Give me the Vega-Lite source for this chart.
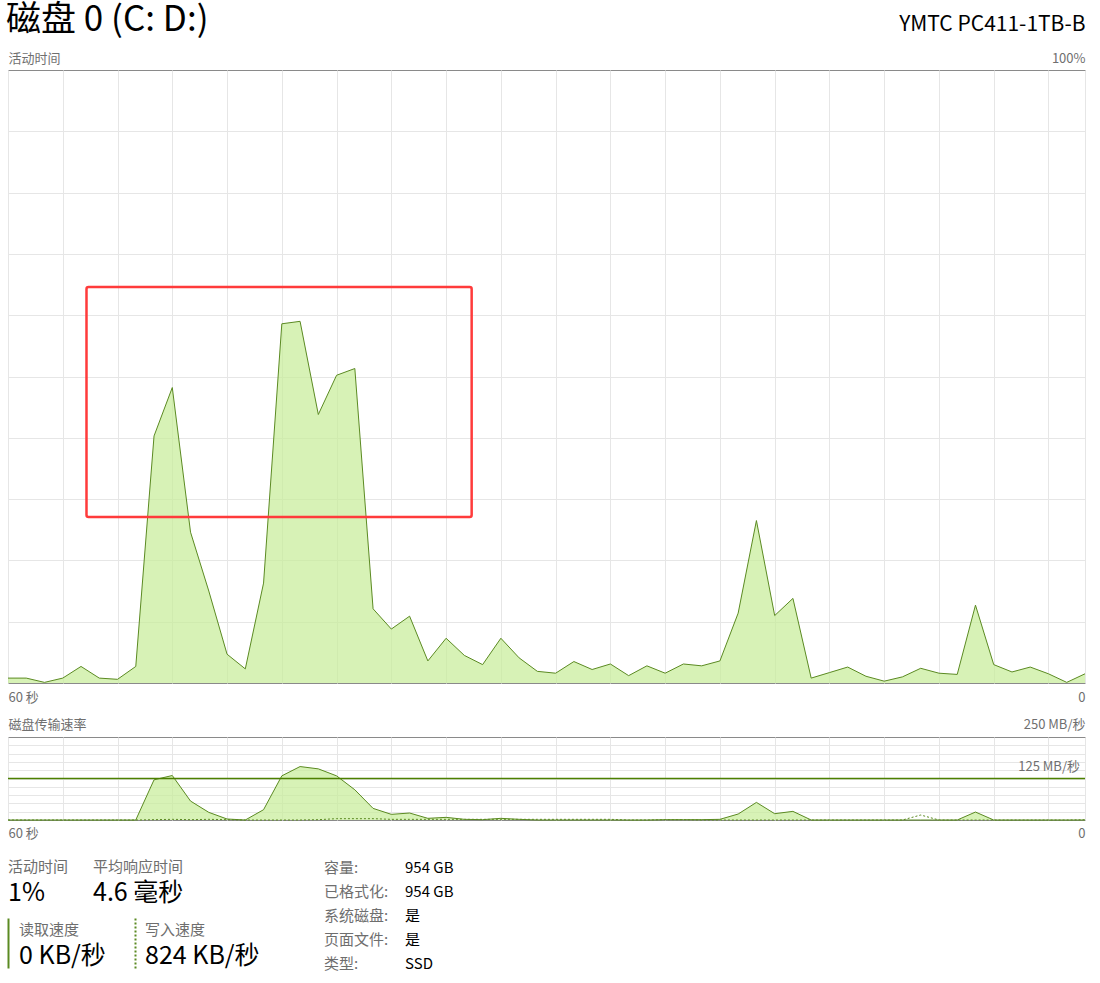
{
  "$schema": "https://vega.github.io/schema/vega-lite/v6.json",
  "background": "white",
  "padding": {"left": 5, "right": 15, "top": 2, "bottom": 0},
  "config": {
    "font": "Noto Sans CJK SC",
    "view": {"stroke": "#8a8a8a", "strokeWidth": 1},
    "axis": {"gridColor": "#e6e6e6", "gridWidth": 1, "labelFont": "Noto Sans CJK SC", "labelColor": "#6f6f6f", "labelFontSize": 13, "ticks": false, "domain": false},
    "title": {"font": "Noto Sans CJK SC", "fontWeight": "normal", "subtitleFont": "Noto Sans CJK SC"}
  },
  "datasets": {
    "磁盘": [
      {"秒": 59, "活动时间": 0.8, "读取": 0, "写入": 0},
      {"秒": 58, "活动时间": 0.8, "读取": 0, "写入": 0},
      {"秒": 57, "活动时间": 0.1, "读取": 0, "写入": 0},
      {"秒": 56, "活动时间": 0.8, "读取": 0, "写入": 0},
      {"秒": 55, "活动时间": 2.7, "读取": 0, "写入": 0},
      {"秒": 54, "活动时间": 0.8, "读取": 0, "写入": 0},
      {"秒": 53, "活动时间": 0.6, "读取": 0, "写入": 0},
      {"秒": 52, "活动时间": 2.7, "读取": 0, "写入": 0},
      {"秒": 51, "活动时间": 40.3, "读取": 121, "写入": 1},
      {"秒": 50, "活动时间": 48.2, "读取": 134, "写入": 2},
      {"秒": 49, "活动时间": 24.6, "读取": 57, "写入": 1},
      {"秒": 48, "活动时间": 15.0, "读取": 23, "写入": 2},
      {"秒": 47, "活动时间": 4.7, "读取": 3, "写入": 1},
      {"秒": 46, "活动时间": 2.3, "读取": 0, "写入": 0},
      {"秒": 45, "活动时间": 16.3, "读取": 31, "写入": 0},
      {"秒": 44, "活动时间": 58.6, "读取": 133, "写入": 0},
      {"秒": 43, "活动时间": 59.0, "读取": 161, "写入": 0},
      {"秒": 42, "活动时间": 43.8, "读取": 154, "写入": 1},
      {"秒": 41, "活动时间": 50.2, "读取": 133, "写入": 4},
      {"秒": 40, "活动时间": 51.3, "读取": 91, "写入": 4},
      {"秒": 39, "活动时间": 12.1, "读取": 35, "写入": 4},
      {"秒": 38, "活动时间": 8.8, "读取": 17, "写入": 2},
      {"秒": 37, "活动时间": 10.9, "读取": 21, "写入": 2},
      {"秒": 36, "活动时间": 3.6, "读取": 5, "写入": 2},
      {"秒": 35, "活动时间": 7.3, "读取": 8, "写入": 2},
      {"秒": 34, "活动时间": 4.5, "读取": 2, "写入": 2},
      {"秒": 33, "活动时间": 3.0, "读取": 1, "写入": 2},
      {"秒": 32, "活动时间": 7.3, "读取": 5, "写入": 2},
      {"秒": 31, "活动时间": 4.1, "读取": 2, "写入": 2},
      {"秒": 30, "活动时间": 1.9, "读取": 0, "写入": 2},
      {"秒": 29, "活动时间": 1.6, "读取": 0, "写入": 2},
      {"秒": 28, "活动时间": 3.5, "读取": 0, "写入": 2},
      {"秒": 27, "活动时间": 2.2, "读取": 0, "写入": 2},
      {"秒": 26, "活动时间": 3.1, "读取": 0, "写入": 2},
      {"秒": 25, "活动时间": 1.2, "读取": 0, "写入": 0},
      {"秒": 24, "活动时间": 2.8, "读取": 0, "写入": 0},
      {"秒": 23, "活动时间": 1.6, "读取": 1, "写入": 1},
      {"秒": 22, "活动时间": 3.1, "读取": 1, "写入": 1},
      {"秒": 21, "活动时间": 2.8, "读取": 1, "写入": 0},
      {"秒": 20, "活动时间": 3.6, "读取": 2, "写入": 0},
      {"秒": 19, "活动时间": 11.4, "读取": 18, "写入": 0},
      {"秒": 18, "活动时间": 26.5, "读取": 53, "写入": 0},
      {"秒": 17, "活动时间": 11.0, "读取": 19, "写入": 0},
      {"秒": 16, "活动时间": 13.8, "读取": 26, "写入": 0},
      {"秒": 15, "活动时间": 0.8, "读取": 0, "写入": 0},
      {"秒": 14, "活动时间": 1.7, "读取": 0, "写入": 0},
      {"秒": 13, "活动时间": 2.6, "读取": 0, "写入": 0},
      {"秒": 12, "活动时间": 1.1, "读取": 0, "写入": 0},
      {"秒": 11, "活动时间": 0.3, "读取": 0, "写入": 0},
      {"秒": 10, "活动时间": 1.0, "读取": 0, "写入": 0},
      {"秒": 9, "活动时间": 2.4, "读取": 0, "写入": 15},
      {"秒": 8, "活动时间": 1.6, "读取": 0, "写入": 0},
      {"秒": 7, "活动时间": 1.4, "读取": 0, "写入": 0},
      {"秒": 6, "活动时间": 12.7, "读取": 24, "写入": 0},
      {"秒": 5, "活动时间": 3.0, "读取": 0, "写入": 0},
      {"秒": 4, "活动时间": 1.8, "读取": 0, "写入": 0},
      {"秒": 3, "活动时间": 2.6, "读取": 0, "写入": 0},
      {"秒": 2, "活动时间": 1.5, "读取": 0, "写入": 0},
      {"秒": 1, "活动时间": 0.1, "读取": 0, "写入": 0},
      {"秒": 0, "活动时间": 1.5, "读取": 0, "写入": 0.8}
    ],
    "标注": [{"起": 54.7, "止": 33.6, "下": 27.1, "上": 64.6}],
    "参考线": [{"速率": 125, "标签": "125 MB/秒"}],
    "属性": [
      {"属性": "容量:", "值": "954 GB"},
      {"属性": "已格式化:", "值": "954 GB"},
      {"属性": "系统磁盘:", "值": "是"},
      {"属性": "页面文件:", "值": "是"},
      {"属性": "类型:", "值": "SSD"}
    ]
  },
  "spacing": 14,
  "vconcat": [
    {
      "spacing": 12,
      "vconcat": [
        {
          "width": 1077,
          "height": 613,
          "title": {"text": "磁盘 0 (C: D:)", "anchor": "start", "fontSize": 35, "color": "#000000", "offset": -25},
          "data": {"name": "磁盘"},
          "resolve": {"axis": {"x": "independent", "y": "independent"}},
          "layer": [
            {
              "mark": {"type": "area", "color": "#c6ec97", "opacity": 0.7},
              "encoding": {
                "x": {"field": "秒", "type": "quantitative", "scale": {"domain": [59, 0], "nice": false, "zero": false},
                  "axis": {"orient": "bottom", "values": [59, 56, 53, 50, 47, 44, 41, 38, 35, 32, 29, 26, 23, 20, 17, 14, 11, 8, 5, 2, 0], "grid": true, "labelExpr": "datum.value == 59 ? '60 秒' : (datum.value == 0 ? '0' : '')", "labelFlush": true, "labelOverlap": false, "labelPadding": 8, "title": null}},
                "y": {"field": "活动时间", "type": "quantitative", "scale": {"domain": [0, 100], "nice": false},
                  "axis": {"values": [10, 20, 30, 40, 50, 60, 70, 80, 90], "grid": true, "labels": false, "title": null}}
              }
            },
            {
              "mark": {"type": "line", "color": "#5b8a22", "strokeWidth": 1},
              "encoding": {
                "x": {"field": "秒", "type": "quantitative",
                  "axis": {"orient": "top", "values": [59, 0], "grid": false, "labelExpr": "datum.value == 59 ? '活动时间' : '100%'", "labelFlush": true, "labelOverlap": false, "labelPadding": 5, "title": "YMTC PC411-1TB-B", "titleAnchor": "end", "titleFontSize": 21, "titleFontWeight": "normal", "titleColor": "#000000", "titleFont": "Noto Sans CJK SC", "titlePadding": 18}},
                "y": {"field": "活动时间", "type": "quantitative", "axis": null}
              }
            },
            {
              "data": {"name": "标注"},
              "mark": {"type": "rect", "filled": false, "color": "#ff3b3b", "strokeWidth": 2.5, "cornerRadius": 2},
              "encoding": {
                "x": {"field": "起", "type": "quantitative", "axis": null},
                "x2": {"field": "止"},
                "y": {"field": "下", "type": "quantitative", "axis": null},
                "y2": {"field": "上"}
              }
            }
          ]
        },
        {
          "width": 1077,
          "height": 83,
          "data": {"name": "磁盘"},
          "resolve": {"axis": {"x": "independent", "y": "independent"}},
          "layer": [
            {
              "mark": {"type": "area", "color": "#c6ec97", "opacity": 0.7},
              "encoding": {
                "x": {"field": "秒", "type": "quantitative", "scale": {"domain": [59, 0], "nice": false, "zero": false},
                  "axis": {"orient": "bottom", "values": [59, 56, 53, 50, 47, 44, 41, 38, 35, 32, 29, 26, 23, 20, 17, 14, 11, 8, 5, 2, 0], "grid": true, "labelExpr": "datum.value == 59 ? '60 秒' : (datum.value == 0 ? '0' : '')", "labelFlush": true, "labelOverlap": false, "labelPadding": 7, "title": null}},
                "y": {"field": "读取", "type": "quantitative", "scale": {"domain": [0, 250], "nice": false},
                  "axis": {"values": [25, 50, 75, 100, 125, 150, 175, 200, 225], "grid": true, "labels": false, "title": null}}
              }
            },
            {
              "mark": {"type": "line", "color": "#5b8a22", "strokeWidth": 1},
              "encoding": {
                "x": {"field": "秒", "type": "quantitative",
                  "axis": {"orient": "top", "values": [59, 0], "grid": false, "labelExpr": "datum.value == 59 ? '磁盘传输速率' : '250 MB/秒'", "labelFlush": true, "labelOverlap": false, "labelPadding": 6, "title": null}},
                "y": {"field": "读取", "type": "quantitative", "axis": null}
              }
            },
            {
              "mark": {"type": "line", "color": "#5b8a22", "strokeWidth": 1, "strokeDash": [2, 2]},
              "encoding": {
                "x": {"field": "秒", "type": "quantitative", "axis": null},
                "y": {"field": "写入", "type": "quantitative", "axis": null}
              }
            },
            {
              "data": {"name": "参考线"},
              "mark": {"type": "rule", "color": "#4c8000", "strokeWidth": 1.5},
              "encoding": {"y": {"field": "速率", "type": "quantitative", "axis": null}}
            },
            {
              "data": {"name": "参考线"},
              "mark": {"type": "text", "align": "right", "baseline": "bottom", "dx": -5, "dy": -5, "fontSize": 13, "color": "#6f6f6f"},
              "encoding": {
                "x": {"datum": 0, "type": "quantitative", "axis": null},
                "y": {"field": "速率", "type": "quantitative", "axis": null},
                "text": {"field": "标签"}
              }
            }
          ]
        }
      ]
    },
    {
      "spacing": 39,
      "hconcat": [
        {
          "spacing": 12,
          "vconcat": [
            {
              "spacing": 0,
              "hconcat": [
                {
                  "width": 85, "height": 50,
                  "data": {"values": [{"值": 0}]},
                  "mark": {"type": "point", "opacity": 0},
                  "encoding": {"y": {"field": "值", "type": "quantitative", "axis": null}},
                  "view": {"stroke": null},
                  "title": {"text": "活动时间", "subtitle": "1%", "anchor": "start", "frame": "group", "offset": -51, "fontSize": 15, "color": "#6e6e6e", "subtitleFontSize": 25, "subtitleColor": "#000000", "subtitlePadding": 6}
                },
                {
                  "width": 150, "height": 50,
                  "data": {"values": [{"值": 0}]},
                  "mark": {"type": "point", "opacity": 0},
                  "encoding": {"y": {"field": "值", "type": "quantitative", "axis": null}},
                  "view": {"stroke": null},
                  "title": {"text": "平均响应时间", "subtitle": "4.6 毫秒", "anchor": "start", "frame": "group", "offset": -51, "fontSize": 15, "color": "#6e6e6e", "subtitleFontSize": 25, "subtitleColor": "#000000", "subtitlePadding": 6}
                }
              ]
            },
            {
              "spacing": 0,
              "hconcat": [
                {
                  "width": 127, "height": 50,
                  "data": {"values": [{"值": 0}]},
                  "mark": {"type": "point", "opacity": 0},
                  "encoding": {"y": {"field": "值", "type": "quantitative", "axis": {"labels": false, "ticks": false, "grid": false, "domain": true, "domainColor": "#5b8a22", "domainWidth": 2, "title": null}}},
                  "view": {"stroke": null},
                  "title": {"text": "读取速度", "subtitle": "0 KB/秒", "anchor": "start", "frame": "group", "offset": -51, "dx": 11, "fontSize": 15, "color": "#6e6e6e", "subtitleFontSize": 25, "subtitleColor": "#000000", "subtitlePadding": 6}
                },
                {
                  "width": 150, "height": 50,
                  "data": {"values": [{"值": 0}]},
                  "mark": {"type": "point", "opacity": 0},
                  "encoding": {"y": {"field": "值", "type": "quantitative", "axis": {"labels": false, "ticks": false, "grid": false, "domain": true, "domainColor": "#5b8a22", "domainWidth": 2, "domainDash": [2, 2], "title": null}}},
                  "view": {"stroke": null},
                  "title": {"text": "写入速度", "subtitle": "824 KB/秒", "anchor": "start", "frame": "group", "offset": -51, "dx": 10, "fontSize": 15, "color": "#6e6e6e", "subtitleFontSize": 25, "subtitleColor": "#000000", "subtitlePadding": 6}
                }
              ]
            }
          ]
        },
        {
          "width": 81, "height": 122,
          "data": {"name": "属性"},
          "view": {"stroke": null},
          "encoding": {"y": {"field": "属性", "type": "nominal", "sort": null, "scale": {"type": "point", "padding": 0.5417}, "axis": null}},
          "layer": [
            {
              "mark": {"type": "text", "align": "left", "fontSize": 15, "color": "#6e6e6e"},
              "encoding": {
                "x": {"datum": "名称", "type": "nominal", "scale": {"type": "point", "domain": ["名称", "值"], "padding": 0}, "axis": null},
                "text": {"field": "属性"}
              }
            },
            {
              "mark": {"type": "text", "align": "left", "fontSize": 15, "color": "#000000"},
              "encoding": {
                "x": {"datum": "值", "type": "nominal", "axis": null},
                "text": {"field": "值"}
              }
            }
          ]
        }
      ]
    }
  ]
}
